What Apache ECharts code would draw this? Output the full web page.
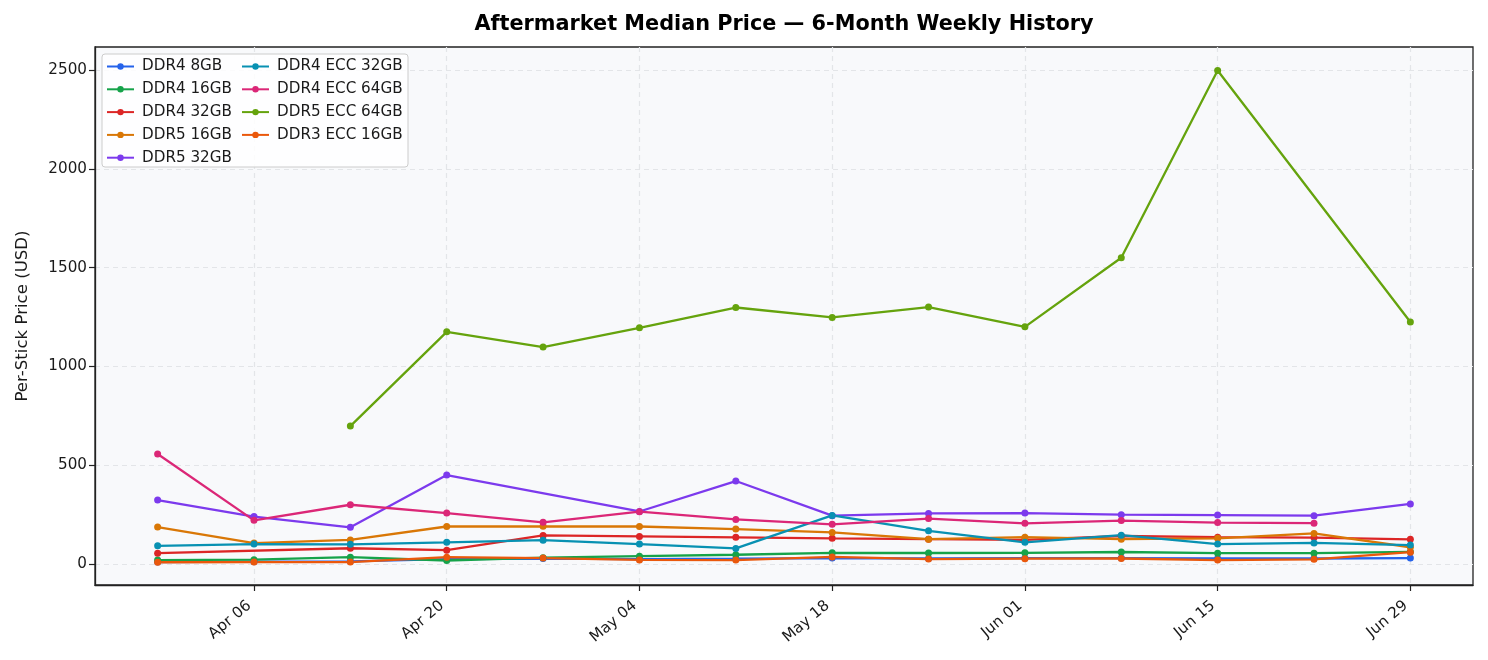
<!DOCTYPE html>
<html>
<head>
<meta charset="utf-8">
<script src="https://cdn.jsdelivr.net/npm/echarts@6/dist/echarts.min.js"></script>
<style>
  html, body { margin: 0; padding: 0; background: #ffffff; }
  #chart { width: 1488px; height: 660px; }
</style>
</head>
<body>
<div id="chart"></div>
<script>
// weekly sample dates
var weeks = ['2025-03-30', '2025-04-06', '2025-04-13', '2025-04-20', '2025-04-27', '2025-05-04', '2025-05-11',
             '2025-05-18', '2025-05-25', '2025-06-01', '2025-06-08', '2025-06-15', '2025-06-22', '2025-06-29'];
var xTickDates = ['2025-04-06', '2025-04-20', '2025-05-04', '2025-05-18', '2025-06-01', '2025-06-15', '2025-06-29'];
var yTicks = [0, 500, 1000, 1500, 2000, 2500];

var names = ['DDR4 8GB', 'DDR4 16GB', 'DDR4 32GB', 'DDR5 16GB', 'DDR5 32GB',
             'DDR4 ECC 32GB', 'DDR4 ECC 64GB', 'DDR5 ECC 64GB', 'DDR3 ECC 16GB'];
var colors = ['#2563eb', '#16a34a', '#dc2626', '#d97706', '#7c3aed', '#0891b2', '#db2777', '#65a30d', '#ea580c'];

// median price per stick (USD), null = no listing that week
var ddr4_8gb   = [10, 12, 14, 25, 28, 25, 27, 30, 28, 30, 30, 28, 28, 30];
var ddr4_16gb  = [20, 22, 35, 18, 32, 40, 47, 57, 56, 57, 61, 55, 55, 62];
var ddr4_32gb  = [55, null, 80, 70, 145, 140, 135, 130, 126, 122, 142, 136, 134, 125];
var ddr5_16gb  = [187, 106, 122, 190, 191, 190, 177, 160, 126, 136, 126, 130, 155, 85];
var ddr5_32gb  = [324, 240, 186, 450, null, 266, 420, 245, 256, 258, 250, 248, 245, 304];
var ecc4_32gb  = [92, 101, 100, 110, 121, 101, 79, 246, 168, 110, 146, 101, 107, 96];
var ecc4_64gb  = [557, 221, 300, 258, 211, 265, 226, 201, 230, 206, 220, 210, 207, null];
var ecc5_64gb  = [null, null, 698, 1175, 1098, 1195, 1298, 1248, 1300, 1200, 1550, 2497, null, 1225];
var ddr3_ecc16 = [9, 10, 10, 35, 30, 21, 20, 36, 25, 27, 28, 20, 24, 60];

var allValues = [ddr4_8gb, ddr4_16gb, ddr4_32gb, ddr5_16gb, ddr5_32gb, ecc4_32gb, ecc4_64gb, ecc5_64gb, ddr3_ecc16];

var FONT = 'DejaVu Sans';
var DAY = 86400000;
var months = ['Jan', 'Feb', 'Mar', 'Apr', 'May', 'Jun', 'Jul', 'Aug', 'Sep', 'Oct', 'Nov', 'Dec'];

function toTime(s) {
    var p = s.split('-');
    return Date.UTC(+p[0], +p[1] - 1, +p[2]);
}
function pad(n) { return n < 10 ? '0' + n : '' + n; }

var xTicks = xTickDates.map(toTime);
var xMin = toTime(weeks[0]) - 4.55 * DAY;
var xMax = toTime(weeks[weeks.length - 1]) + 4.55 * DAY;

var series = names.map(function (n, i) {
    return {
        name: n,
        type: 'line',
        color: colors[i],
        symbol: 'circle',
        symbolSize: 7,
        connectNulls: true,
        lineStyle: { width: 2.3 },
        emphasis: { disabled: true },
        z: 2,
        data: weeks.map(function (w, j) { return [toTime(w), allValues[i][j]]; })
    };
});

var legendBase = {
    orient: 'vertical',
    top: 59,
    padding: 0,
    itemWidth: 27,
    itemHeight: 8,
    itemGap: 7.8,
    z: 6,
    textStyle: { fontFamily: FONT, fontSize: 15.2, color: '#1a1a1a', lineHeight: 14, padding: [0, 0, 0, 3] }
};

var myChart = echarts.init(document.getElementById('chart'));
var option = {
    animation: false,
    backgroundColor: '#ffffff',
    title: {
        text: 'Aftermarket Median Price — 6-Month Weekly History',
        left: 779,
        top: 9,
        textAlign: 'center',
        textStyle: { fontFamily: FONT, fontSize: 20.8, fontWeight: 'bold', color: '#000' }
    },
    grid: {
        left: 95, right: 15, top: 47, bottom: 75,
        show: true,
        backgroundColor: '#f8f9fb',
        borderColor: '#222',
        borderWidth: 1.3
    },
    graphic: [{
        type: 'rect',
        z: 5,
        shape: { x: 102, y: 54, width: 306, height: 113, r: 3 },
        style: { fill: 'rgba(255,255,255,0.85)', stroke: '#cccccc', lineWidth: 1 }
    }],
    legend: [
        Object.assign({}, legendBase, { left: 106, data: names.slice(0, 5) }),
        Object.assign({}, legendBase, { left: 241, data: names.slice(5) })
    ],
    xAxis: {
        type: 'value',
        min: xMin,
        max: xMax,
        axisLine: { show: true, onZero: false, lineStyle: { color: '#222', width: 1.3 } },
        axisTick: { show: true, length: 6, customValues: xTicks, lineStyle: { color: '#222', width: 1.2 } },
        axisLabel: {
            customValues: xTicks,
            rotate: 40,
            margin: 15,
            padding: [0, 6, 0, 0],
            fontFamily: FONT,
            fontSize: 15.2,
            color: '#1a1a1a',
            formatter: function (v) {
                var d = new Date(v);
                return months[d.getUTCMonth()] + ' ' + pad(d.getUTCDate());
            }
        },
        splitLine: { show: true, lineStyle: { color: '#e3e5e8', type: [5, 4], width: 1.2 } }
    },
    yAxis: {
        type: 'value',
        min: -106,
        max: 2616,
        name: 'Per-Stick Price (USD)',
        nameLocation: 'middle',
        nameGap: 64,
        nameTextStyle: { fontFamily: FONT, fontSize: 16.6, color: '#1a1a1a' },
        axisLine: { show: true, onZero: false, lineStyle: { color: '#222', width: 1.3 } },
        axisTick: { show: true, length: 6, customValues: yTicks, lineStyle: { color: '#222', width: 1.2 } },
        axisLabel: {
            customValues: yTicks, margin: 8, fontFamily: FONT, fontSize: 15.2, color: '#1a1a1a',
            formatter: function (v) { return String(v); }
        },
        splitLine: { show: true, lineStyle: { color: '#e3e5e8', type: [5, 4], width: 1.2 } }
    },
    series: series
};
myChart.setOption(option);
</script>
</body>
</html>
